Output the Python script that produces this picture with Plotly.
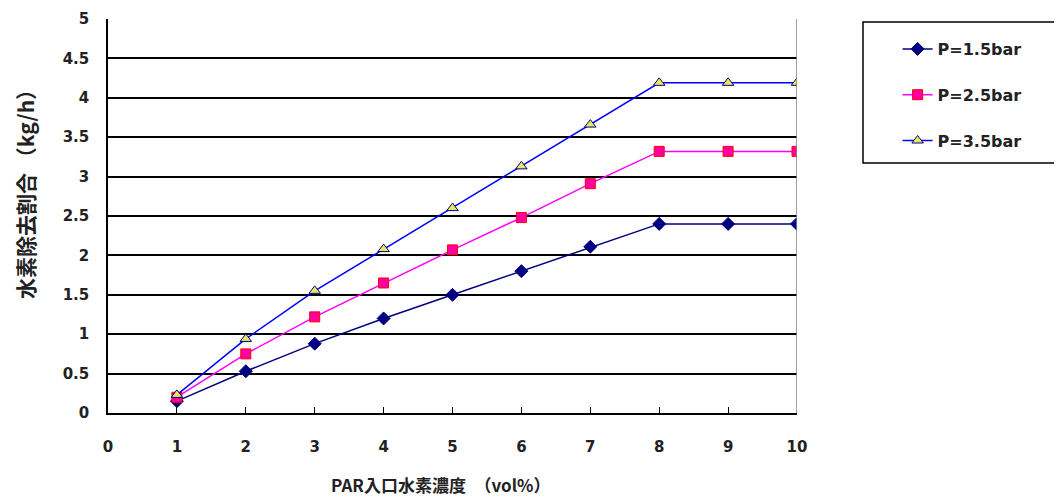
import plotly.graph_objects as go

x_vals = [1, 2, 3, 4, 5, 6, 7, 8, 9, 10]
p15 = [0.15, 0.53, 0.88, 1.20, 1.50, 1.80, 2.11, 2.40, 2.40, 2.40]
p25 = [0.20, 0.75, 1.22, 1.65, 2.07, 2.48, 2.91, 3.32, 3.32, 3.32]
p35 = [0.23, 0.94, 1.55, 2.08, 2.60, 3.13, 3.66, 4.19, 4.19, 4.19]
names = ["P=1.5bar", "P=2.5bar", "P=3.5bar"]
x_ticks = list(range(0, 11))
y_ticks = [0, 0.5, 1, 1.5, 2, 2.5, 3, 3.5, 4, 4.5, 5]
y_labels = ["0", "0.5", "1", "1.5", "2", "2.5", "3", "3.5", "4", "4.5", "5"]
x_title = "PAR入口水素濃度　（vol%）"
y_title = "水素除去割合 （kg/h）"

FONT = "DejaVu Sans, Liberation Sans, sans-serif"
CJK = "Noto Sans CJK JP, sans-serif"
TXT = "#222222"

fig = go.Figure()
fig.add_trace(go.Scatter(
    x=x_vals, y=p15, name=names[0], mode="lines+markers", legendgroup="a",
    line=dict(color="#000080", width=1.5),
    marker=dict(symbol="diamond", size=10, color="#000080", line=dict(color="#000080", width=1))))
fig.add_trace(go.Scatter(
    x=x_vals, y=p25, name=names[1], mode="lines+markers", legendgroup="b",
    line=dict(color="#FF00FF", width=1.5),
    marker=dict(symbol="square", size=10, color="#FF00A0", line=dict(color="#FF0000", width=1))))
fig.add_trace(go.Scatter(
    x=x_vals, y=p35, name=names[2], mode="lines+markers", legendgroup="c",
    line=dict(color="#0000FF", width=1.5),
    marker=dict(symbol="triangle-up", size=10, color="#E8E860", line=dict(color="#000080", width=1))))

fig.update_layout(
    width=1062, height=498,
    margin=dict(l=100, r=273, t=11, b=93, autoexpand=False),
    paper_bgcolor="white", plot_bgcolor="white",
    font=dict(family=FONT, size=15, color=TXT),
    showlegend=True,
    legend=dict(x=1.146, y=0.967, xanchor="left", yanchor="top",
                bgcolor="rgba(0,0,0,0)", borderwidth=0,
                tracegroupgap=22, traceorder="grouped",
                font=dict(family=FONT, size=16, color=TXT, weight="bold")),
    xaxis=dict(range=[0, 10], tickvals=x_ticks, ticktext=[str(v) for v in x_ticks],
               showgrid=False, zeroline=False, showline=True, linecolor="black", linewidth=1.5,
               ticks="inside", ticklen=6, tickcolor="black", ticklabelstandoff=19,
               tickfont=dict(family=FONT, size=15, color=TXT, weight="bold")),
    yaxis=dict(range=[0, 5], tickvals=y_ticks, ticktext=y_labels,
               showgrid=True, gridcolor="black", gridwidth=1.5,
               zeroline=False, showline=True, linecolor="black", linewidth=1.5,
               ticks="", ticklabelstandoff=14,
               tickfont=dict(family=FONT, size=15, color=TXT, weight="bold")),
    annotations=[
        dict(text=x_title, xref="paper", yref="paper", x=(440 - 108) / 689, y=(413 - 484) / 394,
             xanchor="center", yanchor="middle", showarrow=False,
             font=dict(family=CJK, size=17, color=TXT, weight="bold")),
        dict(text=y_title, xref="paper", yref="paper", x=(25 - 108) / 689, y=(413 - 189) / 394,
             xanchor="center", yanchor="middle", showarrow=False, textangle=-90,
             font=dict(family=CJK, size=21, color=TXT, weight="bold")),
    ],
)

# right border of plot area (grey) and legend frame
fig.add_shape(type="line", xref="x", yref="paper", x0=10, x1=10, y0=0, y1=1,
              line=dict(color="#808080", width=1.5))
fig.add_shape(type="rect", xref="paper", yref="paper",
              x0=(863 - 108) / 689, x1=(1055 - 108) / 689,
              y0=(413 - 163) / 394, y1=(413 - 22) / 394,
              line=dict(color="black", width=1.5), fillcolor="rgba(0,0,0,0)")

fig.write_html("out.html")
